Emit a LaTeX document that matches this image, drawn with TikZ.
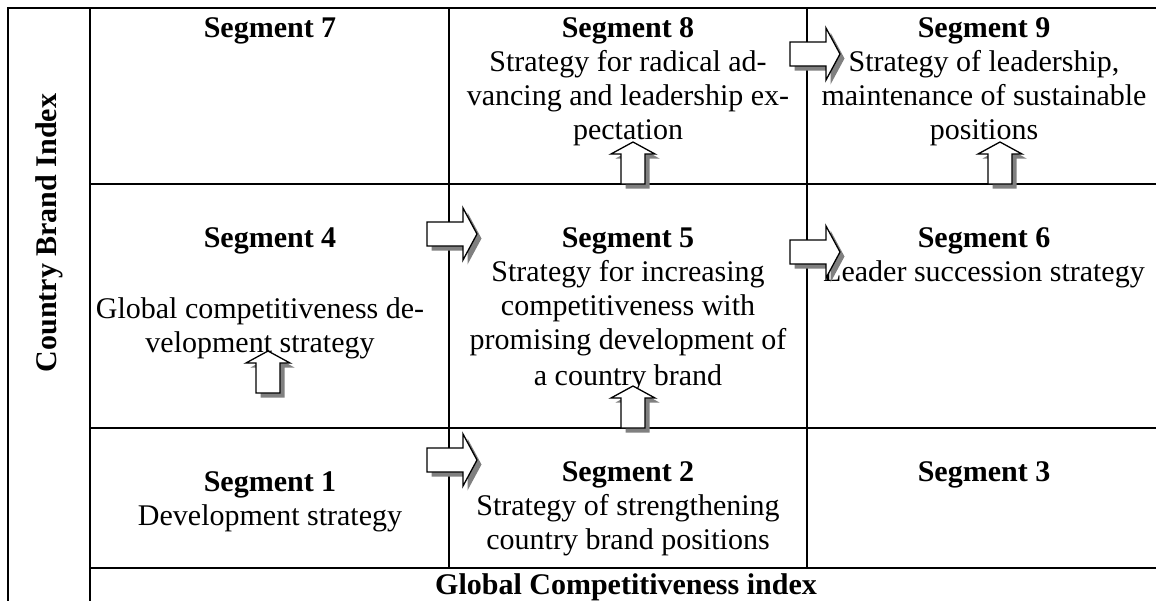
\documentclass[tikz,border=0pt]{standalone}
\usepackage{fontspec}
\setmainfont{Liberation Serif}
\begin{document}
\begin{tikzpicture}[x=0.5pt,y=-0.5pt,
  grid/.style={line width=0.85pt, line cap=rect},
  seg/.style={font=\fontsize{15}{17}\selectfont\bfseries, inner sep=0pt, anchor=base},
  txt/.style={font=\fontsize{15}{17}\selectfont, inner sep=0pt, anchor=base},
  shade/.style={fill=black!50, draw=none},
  blockarrow/.style={fill=white, draw=black, line width=0.65pt, line join=miter},
  rarr/.pic={
    \path[shade, shift={(4.5,4.5)}] (0,-12) -- (36,-12) -- (36,-26) -- (50,0) -- (36,26) -- (36,12) -- (0,12) -- cycle;
    \path[blockarrow] (0,-12) -- (36,-12) -- (36,-26) -- (50,0) -- (36,26) -- (36,12) -- (0,12) -- cycle;
  },
  uarr/.pic={
    \path[shade, shift={(4.5,4.5)}] (-12,0) -- (-12,-30) -- (-22,-30) -- (0,-42) -- (22,-30) -- (12,-30) -- (12,0) -- cycle;
    \path[blockarrow] (-12,0) -- (-12,-30) -- (-22,-30) -- (0,-42) -- (22,-30) -- (12,-30) -- (12,0) -- cycle;
  }]
\useasboundingbox (0,0) rectangle (1156,600);
\clip (0,0) rectangle (1156,600);

% table rules
\draw[grid] (8,8) -- (1170,8);
\draw[grid] (8,8) -- (8,620);
\draw[grid] (90,8) -- (90,620);
\draw[grid] (449,8) -- (449,568);
\draw[grid] (807,8) -- (807,568);
\draw[grid] (90,184) -- (1170,184);
\draw[grid] (90,428) -- (1170,428);
\draw[grid] (90,568) -- (1170,568);

% axis titles
\node[seg, rotate=90, anchor=center] (yaxis) at (49,233) {Country Brand Index};
\node[seg] (xaxis) at (626,594) {Global Competitiveness index};

% top row
\node[seg] (s7) at (270,37) {Segment 7};
\node[seg] (s8) at (628,37) {Segment 8};
\node[txt] (s8a) at (628,71) {Strategy for radical ad-};
\node[txt] (s8b) at (628,105) {vancing and leadership ex-};
\node[txt] (s8c) at (628,139) {pectation};
\node[seg] (s9) at (984,37) {Segment 9};
\node[txt] (s9a) at (984,71) {Strategy of leadership,};
\node[txt] (s9b) at (984,105) {maintenance of sustainable};
\node[txt] (s9c) at (984,139) {positions};

% middle row
\node[seg] (s4) at (270,247) {Segment 4};
\node[txt] (s4a) at (260,318) {Global competitiveness de-};
\node[txt] (s4b) at (260,352) {velopment strategy};
\node[seg] (s5) at (628,247) {Segment 5};
\node[txt] (s5a) at (628,281) {Strategy for increasing};
\node[txt] (s5b) at (628,315) {competitiveness with};
\node[txt] (s5c) at (628,349) {promising development of};
\node[txt] (s5d) at (628,385) {a country brand};
\node[seg] (s6) at (984,247) {Segment 6};
\node[txt] (s6a) at (984,281) {Leader succession strategy};

% bottom row
\node[seg] (s1) at (270,491) {Segment 1};
\node[txt] (s1a) at (270,525) {Development strategy};
\node[seg] (s2) at (628,481) {Segment 2};
\node[txt] (s2a) at (628,515) {Strategy of strengthening};
\node[txt] (s2b) at (628,549) {country brand positions};
\node[seg] (s3) at (984,481) {Segment 3};

% shadowed block arrows
\pic (r89) at (790,54) {rarr};
\pic (r45) at (427,234) {rarr};
\pic (r56) at (790,252) {rarr};
\pic (r12) at (427,460) {rarr};
\pic (u58) at (633,184) {uarr};
\pic (u69) at (1000,184) {uarr};
\pic (u25) at (633,428) {uarr};
\pic (u14) at (268,393) {uarr};
\end{tikzpicture}
\end{document}
